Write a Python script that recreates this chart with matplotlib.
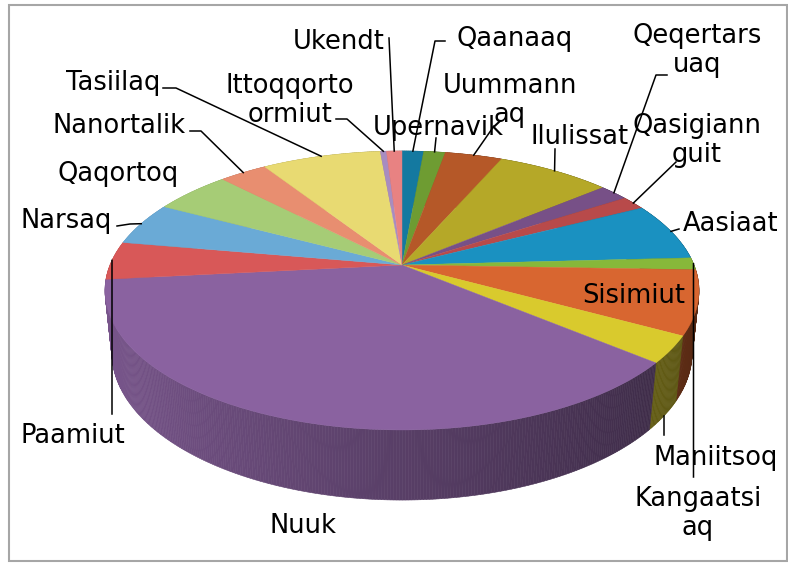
import numpy as np
import matplotlib
matplotlib.use("Agg")
import matplotlib.pyplot as plt
from matplotlib.patches import Polygon, Rectangle

# data (share per municipality)
names = ["Qaanaaq", "Uummannaq", "Upernavik", "Ilulissat", "Qeqertarsuaq",
         "Qasigiannguit", "Aasiaat", "Kangaatsiaq", "Sisimiut", "Maniitsoq",
         "Nuuk", "Paamiut", "Narsaq", "Qaqortoq", "Nanortalik", "Tasiilaq",
         "Ittoqqortoormiut", "Ukendt"]
values = [14, 14, 37, 74, 19, 16, 67, 14, 74, 31, 372, 44, 50, 50, 31, 77, 4, 10]
label_text = ["Qaanaaq", "Uummann\naq", "Upernavik", "Ilulissat", "Qeqertars\nuaq",
              "Qasigiann\nguit", "Aasiaat", "Kangaatsi\naq", "Sisimiut", "Maniitsoq",
              "Nuuk", "Paamiut", "Narsaq", "Qaqortoq", "Nanortalik", "Tasiilaq",
              "Ittoqqorto\normiut", "Ukendt"]
colors = ["#1479A0", "#6E9C32", "#B55828", "#B5A828", "#775087", "#B84A4A",
          "#1A91C1", "#87B83A", "#D86630", "#D9CA2D", "#8A62A0", "#D85858",
          "#6AAAD6", "#A6CC76", "#E88E70", "#E8DA72", "#A88CC0", "#E88282"]

# label placement (pixel coords, baseline of last line) and leader bends
label_pos = {
    "Qaanaaq": (515, 46), "Uummannaq": (510, 122), "Upernavik": (438, 135),
    "Ilulissat": (580, 144), "Qeqertarsuaq": (697, 72), "Qasigiannguit": (697, 162),
    "Aasiaat": (731, 231), "Kangaatsiaq": (698, 535), "Sisimiut": (634, 303),
    "Maniitsoq": (716, 465), "Nuuk": (303, 533), "Paamiut": (73, 443),
    "Narsaq": (66, 228), "Qaqortoq": (118, 181), "Nanortalik": (119, 133),
    "Tasiilaq": (113, 90), "Ittoqqortoormiut": (290, 122), "Ukendt": (339, 49),
}
leaders = {
    "Ukendt": [(389, 38)],
    "Qaanaaq": [(445, 41), (435, 41)],
    "Uummannaq": [(436, 138)],
    "Upernavik": [(494, 126)],
    "Ilulissat": [(555, 149)],
    "Qeqertarsuaq": [(667, 75), (656, 75)],
    "Qasigiannguit": [(676, 162)],
    "Aasiaat": [(679, 229)],
    "Kangaatsiaq": [(693.5, 477)],
    "Paamiut": [(112, 414)],
    "Narsaq": [(117, 226), (130, 224)],
    "Nanortalik": [(190, 131), (201, 131)],
    "Tasiilaq": [(163, 88), (176, 88)],
    "Ittoqqortoormiut": [(336, 119), (347, 119)],
}

# perspective camera for the 3-D pie
cx, cy = 402, 265
elev = np.radians(27.5)
L = 4.855
F = 1417.7
depth = 0.242


def project(theta, z=0.0):
    x = np.cos(theta)
    y = np.sin(theta)
    d = L + y * np.cos(elev) - z * np.sin(elev)
    X = F * x / d
    Y = F * (y * np.sin(elev) + z * np.cos(elev)) / d
    return cx + X, cy - Y


def shade(c, f):
    r, g, b = matplotlib.colors.to_rgb(c)
    return (r * f, g * f, b * f)


fig = plt.figure(figsize=(7.88, 5.64), dpi=100)
ax = fig.add_axes([0, 0, 1, 1])
ax.set_xlim(0, 788)
ax.set_ylim(564, 0)
ax.axis("off")

vals = np.array(values, dtype=float)
cum = np.concatenate([[0], np.cumsum(vals)]) / vals.sum() * 2 * np.pi
# clockwise from 12 o'clock
start = np.pi / 2 - cum[:-1]
end = np.pi / 2 - cum[1:]

# side walls, far to near
segs = []
for i in range(len(vals)):
    n = max(2, int(abs(end[i] - start[i]) / np.radians(0.5)))
    t = np.linspace(start[i], end[i], n + 1)
    for a, b in zip(t[:-1], t[1:]):
        segs.append((np.sin((a + b) / 2), a, b, i))
segs.sort(key=lambda s: -s[0])
for _, a, b, i in segs:
    p1 = project(a); p2 = project(b)
    p3 = project(b, -depth); p4 = project(a, -depth)
    f = 0.64 - 0.24 * np.cos((a + b) / 2)
    col = shade(colors[i], f)
    ax.add_patch(Polygon([p1, p2, p3, p4], closed=True, facecolor=col,
                         edgecolor=col, lw=0.4))

# top faces
for i in range(len(vals)):
    t = np.linspace(start[i], end[i], 80)
    xs, ys = project(t)
    pts = [(cx, cy)] + list(zip(xs, ys))
    ax.add_patch(Polygon(pts, closed=True, facecolor=colors[i],
                         edgecolor=colors[i], lw=0.3))

# labels and leader lines
for i, nm in enumerate(names):
    x, y = label_pos[nm]
    ax.text(x, y, label_text[i], ha="center", va="baseline", fontsize=18.5,
            family="DejaVu Sans", color="black", multialignment="center",
            linespacing=1.15)
    mid = (start[i] + end[i]) / 2
    if nm in leaders:
        anchor = project(mid)
        pts = leaders[nm] + [anchor]
        ax.plot([p[0] for p in pts], [p[1] for p in pts], color="black", lw=1.1)
    elif nm == "Maniitsoq":
        ax_, ay_ = project(mid, -depth)
        ax.plot([ax_, ax_], [ay_, ay_ + 19], color="black", lw=1.1)

ax.add_patch(Rectangle((9, 5), 778, 556, fill=False, edgecolor="#A6A6A6", lw=1.5))

fig.savefig("out.png", dpi=100)
